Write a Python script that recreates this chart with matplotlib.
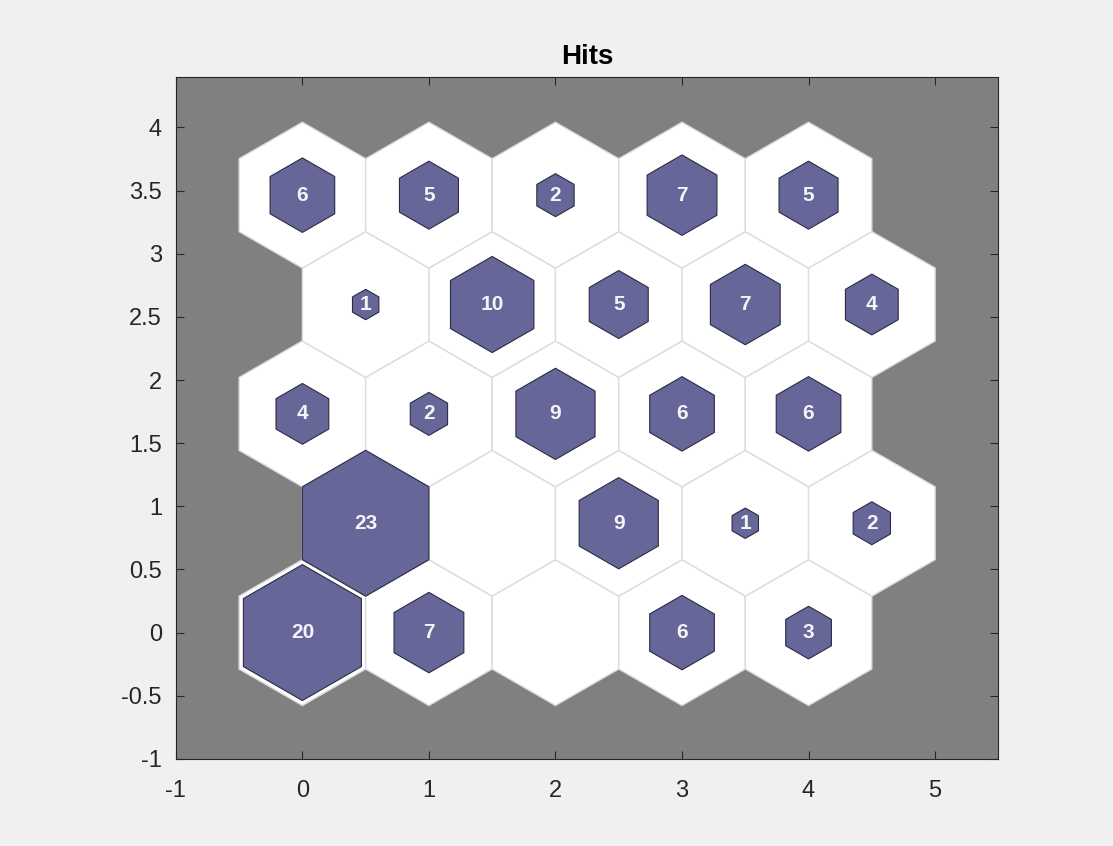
import numpy as np
import matplotlib
matplotlib.use('Agg')
import matplotlib.pyplot as plt
from matplotlib.patches import RegularPolygon

plt.rcParams['font.family'] = ['Liberation Sans', 'DejaVu Sans']

# SOM 5x5 hex grid, hits per neuron (row 0 = bottom)
hits = [
    [20, 7, 0, 6, 3],
    [23, 0, 9, 1, 2],
    [4, 2, 9, 6, 6],
    [1, 10, 5, 7, 4],
    [6, 5, 2, 7, 5],
]
x_ticks = [-1, 0, 1, 2, 3, 4, 5]
y_ticks = [-1, -0.5, 0, 0.5, 1, 1.5, 2, 2.5, 3, 3.5, 4]
y_labels = ['-1', '-0.5', '0', '0.5', '1', '1.5', '2', '2.5', '3', '3.5', '4']

fig = plt.figure(figsize=(11.13, 8.46), dpi=100)
fig.patch.set_facecolor('#f0f0f0')
ax = fig.add_axes([0.158, 0.103, 0.739, 0.806])
ax.set_facecolor('#808080')

R = 1 / np.sqrt(3)
hmax = max(max(r) for r in hits)
for row, vals in enumerate(hits):
    for col, h in enumerate(vals):
        cx = col + (0.5 if row % 2 else 0)
        cy = row * np.sqrt(3) / 2
        ax.add_patch(RegularPolygon((cx, cy), 6, radius=R, orientation=0,
                                    facecolor='white', edgecolor='#dcdcdc', lw=1))
        if h > 0:
            s = np.sqrt(h / hmax)
            ax.add_patch(RegularPolygon((cx, cy), 6, radius=R * s, orientation=0,
                                        facecolor='#666699', edgecolor='#2b2b45', lw=0.8, zorder=3))
            ax.text(cx, cy, str(h), color='#f4f4f8', fontweight='bold', fontsize=15,
                    ha='center', va='center', zorder=4)

ax.set_xlim(-1, 5.5)
ax.set_ylim(-1, 4.4)
ax.set_xticks(x_ticks)
ax.set_xticklabels([str(v) for v in x_ticks])
ax.set_yticks(y_ticks)
ax.set_yticklabels(y_labels)
ax.tick_params(direction='in', top=True, right=True, labelsize=17, colors='#262626', length=6)
ax.tick_params(axis='x', pad=15)
ax.tick_params(axis='y', pad=10)
for sp in ax.spines.values():
    sp.set_color('#262626')
ax.set_title('Hits', fontsize=20, fontweight='bold', color='black', pad=9)

fig.savefig('out.png', dpi=100, facecolor=fig.get_facecolor())
